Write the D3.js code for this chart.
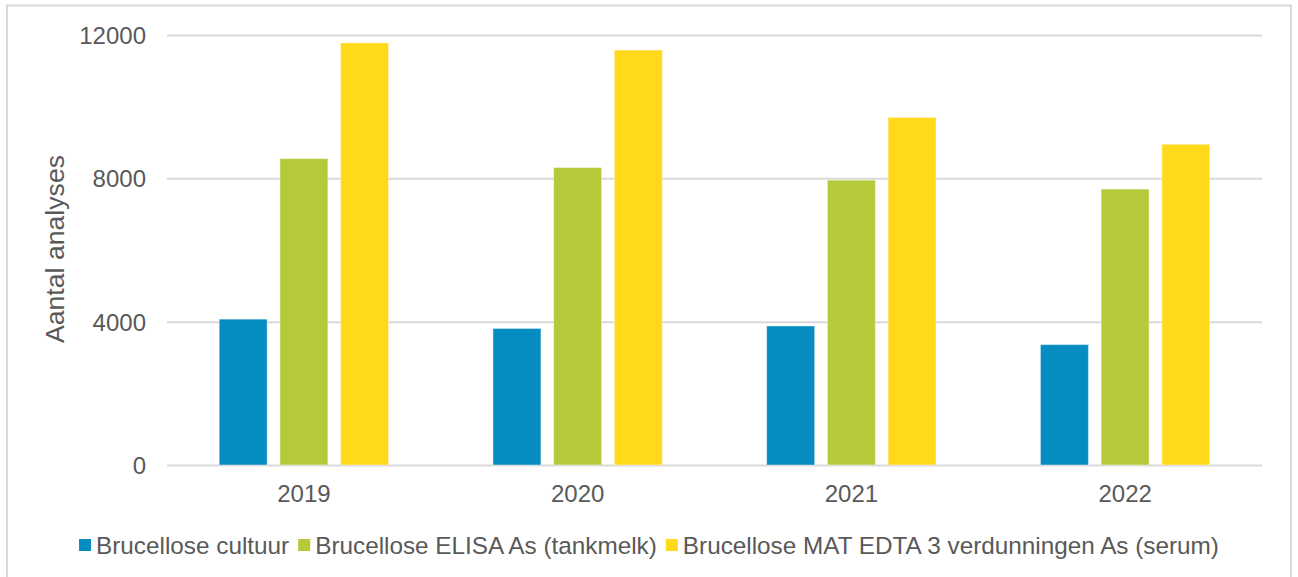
<!DOCTYPE html>
<html>
<head>
<meta charset="utf-8">
<script src="https://cdn.jsdelivr.net/npm/d3@7"></script>
<style>
  body { margin: 0; background: #FFFFFF; }
  text { font-family: "Liberation Sans", Arial, sans-serif; fill: #595959; }
</style>
</head>
<body>
<div id="chart"></div>
<script>
// data
const years = ["2019", "2020", "2021", "2022"];
const seriesNames = [
    "Brucellose cultuur",
    "Brucellose ELISA As (tankmelk)",
    "Brucellose MAT EDTA 3 verdunningen As (serum)"
];
const cultuur = [4070, 3810, 3880, 3360];
const elisa = [8550, 8300, 7950, 7700];
const matEdta = [11780, 11580, 9700, 8950];
const yTicks = [0, 4000, 8000, 12000];
const yTitle = "Aantal analyses";

const svgAttr = {
    width: 1298,
    height: 577
};

const plot = {
    left: 167,
    right: 1262,
    top: 35,
    bottom: 465
};

const colors = ["#058DC2", "#B6C93B", "#FFD91A"];
const gridColor = "#D9D9D9";

const values = [cultuur, elisa, matEdta];

const svg = d3.select("#chart")
              .append("svg")
              .attr("width", svgAttr.width)
              .attr("height", svgAttr.height);

// outer border
svg.append("rect")
   .attr("x", 7)
   .attr("y", 5.5)
   .attr("width", 1284)
   .attr("height", 590)
   .attr("fill", "none")
   .attr("stroke", gridColor)
   .attr("stroke-width", 2);

const x0 = d3.scaleBand()
             .domain(years)
             .range([plot.left, plot.right]);

const x1 = d3.scaleBand()
             .domain(d3.range(seriesNames.length))
             .range([0, x0.bandwidth()])
             .paddingInner(0.21)
             .paddingOuter(0.86);

const y = d3.scaleLinear()
            .domain([0, 12000])
            .range([plot.bottom, plot.top]);

// gridlines + y labels
const yAxis = d3.axisLeft(y)
                .tickValues(yTicks)
                .tickSize(-(plot.right - plot.left))
                .tickPadding(21)
                .tickFormat(d3.format("d"));

const yg = svg.append("g")
              .attr("transform", "translate(" + plot.left + ",0)")
              .call(yAxis);
yg.select(".domain").remove();
yg.selectAll(".tick line")
  .attr("stroke", gridColor)
  .attr("stroke-width", 2);
yg.selectAll(".tick text")
  .attr("font-size", 24)
  .attr("fill", "#595959")
  .attr("dy", "0.35em");

// bars
years.forEach((yr, i) => {
    values.forEach((s, j) => {
        svg.append("rect")
           .attr("x", x0(yr) + x1(j))
           .attr("y", y(s[i]))
           .attr("width", x1.bandwidth())
           .attr("height", y(0) - y(s[i]))
           .attr("fill", colors[j])
           .attr("stroke", "#FFFFFF")
           .attr("stroke-opacity", 0.4)
           .attr("stroke-width", 1);
    });
});

// x labels
const xAxis = d3.axisBottom(x0)
                .tickSize(0)
                .tickPadding(20);
const xg = svg.append("g")
              .attr("transform", "translate(0," + plot.bottom + ")")
              .call(xAxis);
xg.select(".domain").remove();
xg.selectAll(".tick text")
  .attr("font-size", 24)
  .attr("fill", "#595959");

// y title
svg.append("text")
   .attr("transform", "translate(64,249) rotate(-90)")
   .attr("text-anchor", "middle")
   .attr("font-size", 26.67)
   .text(yTitle);

// legend
const legend = svg.append("g");
let lx = 0;
seriesNames.forEach((name, j) => {
    legend.append("rect")
          .attr("x", lx)
          .attr("y", -6)
          .attr("width", 12)
          .attr("height", 12)
          .attr("fill", colors[j]);
    const t = legend.append("text")
                    .attr("x", lx + 17)
                    .attr("y", 8.5)
                    .attr("font-size", 24.3)
                    .text(name);
    lx += 17 + t.node().getComputedTextLength() + 9;
});
lx -= 9;
legend.attr("transform", "translate(" + (649 - lx / 2) + ",545)");
</script>
</body>
</html>
